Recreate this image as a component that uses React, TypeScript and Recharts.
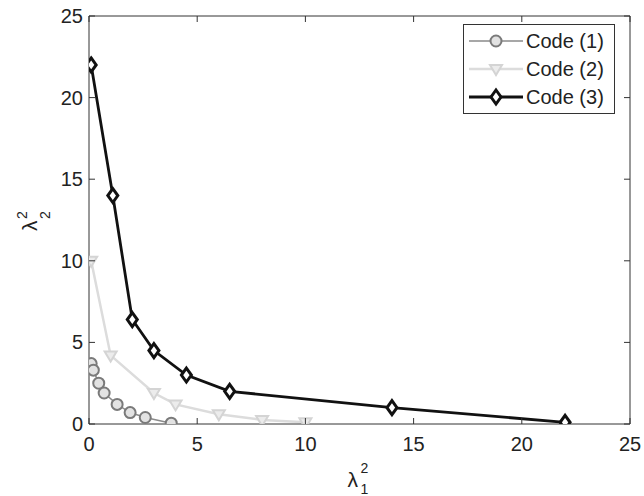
import React from 'react';
import { LineChart, Line, XAxis, YAxis, Legend, Label } from 'recharts';

const code1X = [0.1, 0.2, 0.45, 0.7, 1.3, 1.9, 2.6, 3.8];
const code1Y = [3.7, 3.3, 2.5, 1.9, 1.2, 0.7, 0.4, 0.05];
const code2X = [0.1, 1.0, 3.0, 4.0, 6.0, 8.0, 10.0];
const code2Y = [10.0, 4.2, 1.9, 1.2, 0.6, 0.25, 0.1];
const code3X = [0.1, 1.1, 2.0, 3.0, 4.5, 6.5, 14, 22];
const code3Y = [22, 14, 6.4, 4.5, 3.0, 2.0, 1.0, 0.1];
const xTicks = [0, 5, 10, 15, 20, 25];
const yTicks = [0, 5, 10, 15, 20, 25];
const seriesNames = ['Code (1)', 'Code (2)', 'Code (3)'];

const toPoints = (xs: number[], ys: number[]) => xs.map((x, i) => ({ x, y: ys[i] }));
const data1 = toPoints(code1X, code1Y);
const data2 = toPoints(code2X, code2Y);
const data3 = toPoints(code3X, code3Y);

const FONT = '"Liberation Sans", Arial, sans-serif';
const AXIS = '#333';
const TEXT = '#222';

const C1 = { line: '#8a8a8a', stroke: '#7a7a7a', fill: '#e2e2e2' };
const C2 = { line: '#dcdcdc', stroke: '#d4d4d4', fill: '#ececec' };
const C3 = { line: '#111', stroke: '#111', fill: '#fff' };

const Circle1 = ({ cx, cy }: any) => (
  <circle cx={cx} cy={cy} r={5.5} fill={C1.fill} stroke={C1.stroke} strokeWidth={2} />
);
const Tri2 = ({ cx, cy }: any) => (
  <polygon points={`${cx - 6},${cy - 4} ${cx + 6},${cy - 4} ${cx},${cy + 6}`} fill={C2.fill} stroke={C2.stroke} strokeWidth={2} />
);
const Diamond3 = ({ cx, cy }: any) => (
  <polygon points={`${cx},${cy - 7} ${cx + 5},${cy} ${cx},${cy + 7} ${cx - 5},${cy}`} fill={C3.fill} stroke={C3.stroke} strokeWidth={3} />
);

const BottomTick = ({ x, y, payload }: any) => (
  <g>
    <line x1={x} y1={y} x2={x} y2={y - 6} stroke={AXIS} strokeWidth={1} />
    <text x={x} y={y + 27} textAnchor="middle" fontSize={20} fontFamily={FONT} fill={TEXT}>{payload.value}</text>
  </g>
);
const TopTick = ({ x, y }: any) => (
  <line x1={x} y1={y} x2={x} y2={y + 6} stroke={AXIS} strokeWidth={1} />
);
const LeftTick = ({ x, y, payload }: any) => (
  <g>
    <line x1={x} y1={y} x2={x + 6} y2={y} stroke={AXIS} strokeWidth={1} />
    <text x={x - 6} y={y + 7} textAnchor="end" fontSize={20} fontFamily={FONT} fill={TEXT}>{payload.value}</text>
  </g>
);
const RightTick = ({ x, y }: any) => (
  <line x1={x} y1={y} x2={x - 6} y2={y} stroke={AXIS} strokeWidth={1} />
);

const XLabel = ({ viewBox }: any) => {
  const cx = viewBox.x + viewBox.width / 2 - 12;
  return (
    <g fontFamily={FONT} fill={TEXT}>
      <text x={cx} y={487} fontSize={21}>λ</text>
      <text x={cx + 13} y={473} fontSize={14}>2</text>
      <text x={cx + 13} y={494} fontSize={14}>1</text>
    </g>
  );
};

const YLabel = () => (
  <g transform="translate(37, 231) rotate(-90)" fontFamily={FONT} fill={TEXT}>
    <text x={0} y={0} fontSize={21}>λ</text>
    <text x={12} y={-10} fontSize={14}>2</text>
    <text x={12} y={13} fontSize={14}>2</text>
  </g>
);

const legendMarkers = [
  { c: C1, width: 1.5, M: Circle1 },
  { c: C2, width: 2.5, M: Tri2 },
  { c: C3, width: 2.8, M: Diamond3 },
];

const LegendBox = () => (
  <div style={{ border: '1px solid #333', background: '#fff', width: 152, padding: '2px 0 2px 0', boxSizing: 'border-box' }}>
    {seriesNames.map((name, i) => {
      const { c, width, M } = legendMarkers[i];
      return (
        <div key={name} style={{ display: 'flex', alignItems: 'center', height: 28 }}>
          <svg width={58} height={28} style={{ marginLeft: 4, display: 'block' }}>
            <line x1={1} y1={14} x2={55} y2={14} stroke={c.line} strokeWidth={width} />
            <M cx={28} cy={14} />
          </svg>
          <span style={{ fontFamily: FONT, fontSize: 20, color: TEXT, marginLeft: 0, lineHeight: '28px' }}>{name}</span>
        </div>
      );
    })}
  </div>
);

export default function App() {
  return (
    <div style={{ position: 'absolute', left: 0, top: 0, width: 644, height: 496, background: '#fff' }}>
      <LineChart width={644} height={496} margin={{ top: 15, right: 13, bottom: 32, left: 29 }}>
        <XAxis
          xAxisId="b"
          type="number"
          dataKey="x"
          domain={[0, 25]}
          ticks={xTicks}
          orientation="bottom"
          height={40}
          stroke={AXIS}
          tickLine={false}
          tickSize={0}
          tickMargin={0}
          tick={<BottomTick />}
          allowDataOverflow
        >
          <Label content={<XLabel />} />
        </XAxis>
        <XAxis
          xAxisId="t"
          type="number"
          dataKey="x"
          domain={[0, 25]}
          ticks={xTicks}
          orientation="top"
          height={1}
          stroke={AXIS}
          tickLine={false}
          tickSize={0}
          tickMargin={0}
          tick={<TopTick />}
          allowDataOverflow
        />
        <YAxis
          yAxisId="l"
          type="number"
          dataKey="y"
          domain={[0, 25]}
          ticks={yTicks}
          orientation="left"
          width={60}
          stroke={AXIS}
          tickLine={false}
          tickSize={0}
          tickMargin={0}
          tick={<LeftTick />}
          allowDataOverflow
        >
          <Label content={<YLabel />} />
        </YAxis>
        <YAxis
          yAxisId="r"
          type="number"
          dataKey="y"
          domain={[0, 25]}
          ticks={yTicks}
          orientation="right"
          width={1}
          stroke={AXIS}
          tickLine={false}
          tickSize={0}
          tickMargin={0}
          tick={<RightTick />}
          allowDataOverflow
        />
        <Legend
          layout="vertical"
          align="center"
          verticalAlign="middle"
          wrapperStyle={{ position: 'absolute', left: 463, top: 24, width: 152 }}
          content={<LegendBox />}
        />
        <Line
          xAxisId="b"
          yAxisId="l"
          data={data2}
          dataKey="y"
          name={seriesNames[1]}
          stroke={C2.line}
          strokeWidth={2.5}
          isAnimationActive={false}
          dot={(p: any) => <Tri2 key={`d2-${p.index}`} cx={p.cx} cy={p.cy} />}
          activeDot={false}
        />
        <Line
          xAxisId="b"
          yAxisId="l"
          data={data1}
          dataKey="y"
          name={seriesNames[0]}
          stroke={C1.line}
          strokeWidth={1.5}
          isAnimationActive={false}
          dot={(p: any) => <Circle1 key={`d1-${p.index}`} cx={p.cx} cy={p.cy} />}
          activeDot={false}
        />
        <Line
          xAxisId="b"
          yAxisId="l"
          data={data3}
          dataKey="y"
          name={seriesNames[2]}
          stroke={C3.line}
          strokeWidth={2.8}
          isAnimationActive={false}
          dot={(p: any) => <Diamond3 key={`d3-${p.index}`} cx={p.cx} cy={p.cy} />}
          activeDot={false}
        />
      </LineChart>
    </div>
  );
}
